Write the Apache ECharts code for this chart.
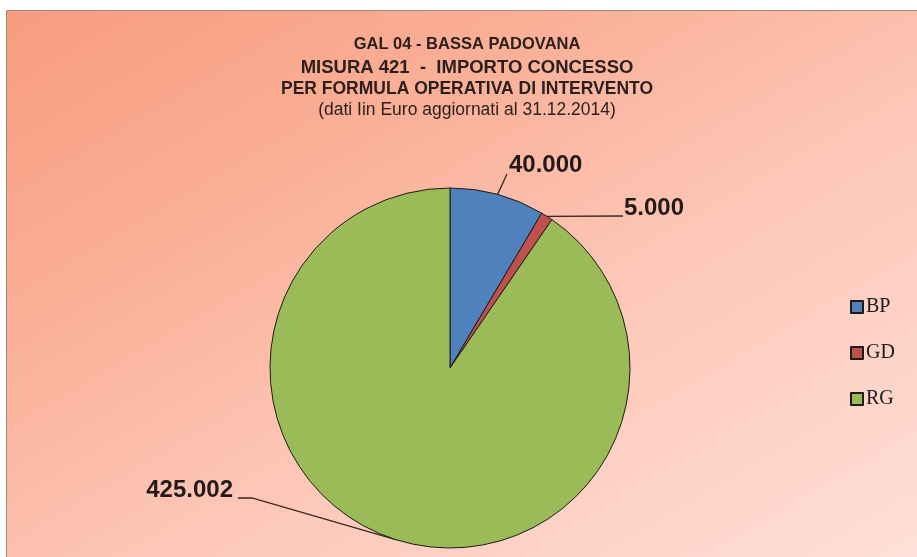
<!DOCTYPE html>
<html>
<head>
<meta charset="utf-8">
<script src="https://cdn.jsdelivr.net/npm/echarts@6/dist/echarts.min.js"></script>
<style>
html,body{margin:0;padding:0;background:#ffffff;}
#chart{width:917px;height:557px;}
</style>
</head>
<body>
<div id="chart"></div>
<script>
// ---- data ----
var categories = ['BP', 'GD', 'RG'];
var values = [40000, 5000, 425002];
var valueLabels = ['40.000', '5.000', '425.002'];
var sliceColors = ['#4F81BD', '#C0504D', '#9BBB59'];
var titleLines = [
  'GAL 04 - BASSA PADOVANA',
  'MISURA 421  -  IMPORTO CONCESSO',
  'PER FORMULA OPERATIVA DI INTERVENTO',
  '(dati Iin Euro aggiornati al 31.12.2014)'
];

// label placement (annotation positions)
var labelSpec = [
  { x: 509, y: 165, align: 'left',  line: [[507, 174]] },
  { x: 624, y: 208, align: 'left',  line: [[623, 216]] },
  { x: 233, y: 490, align: 'right', line: [[252, 498], [238, 498]] }
];

var chart = echarts.init(document.getElementById('chart'));

var seriesData = categories.map(function (c, i) {
  return { name: c, value: values[i], itemStyle: { color: sliceColors[i] } };
});

var titleFont = 'Liberation Sans';
var titles = [
  { text: titleLines[0], top: 36, fs: 16.5, fw: 'bold' },
  { text: titleLines[1], top: 58, fs: 18.5, fw: 'bold' },
  { text: titleLines[2], top: 80, fs: 17.5, fw: 'bold' },
  { text: titleLines[3], top: 101, fs: 17.5, fw: 'normal' }
].map(function (t) {
  return {
    text: t.text,
    left: 467,
    textAlign: 'center',
    top: t.top,
    padding: 0,
    textStyle: { fontFamily: titleFont, fontSize: t.fs, fontWeight: t.fw, color: '#2a1f1c' }
  };
});

chart.setOption({
  animation: false,
  backgroundColor: '#ffffff',
  graphic: [{
    type: 'rect',
    z: -10,
    silent: true,
    shape: { x: 6.5, y: 10.5, width: 930, height: 570 },
    style: {
      fill: {
        type: 'linear', x: 0, y: 0, x2: 0.53, y2: 1.47,
        colorStops: [
          { offset: 0, color: '#F89C7E' },
          { offset: 0.3, color: '#FAB098' },
          { offset: 0.55, color: '#FDC6B6' },
          { offset: 1, color: '#FFE2DB' }
        ]
      },
      stroke: '#9a8a84',
      lineWidth: 1
    }
  }],
  title: titles,
  legend: {
    orient: 'vertical',
    left: 845,
    top: 292,
    itemWidth: 12,
    itemHeight: 12,
    itemGap: 26,
    icon: 'rect',
    data: categories,
    textStyle: { fontFamily: 'Liberation Serif', fontSize: 20, color: '#1a1a1a', lineHeight: 20, padding: [0, 0, 0, -2] }
  },
  series: [{
    type: 'pie',
    center: [450, 368],
    radius: 180,
    startAngle: 90,
    clockwise: true,
    avoidLabelOverlap: false,
    itemStyle: { borderColor: '#1e1a18', borderWidth: 1 },
    emphasis: { disabled: true },
    label: {
      show: true,
      position: 'outside',
      formatter: function (p) { return valueLabels[p.dataIndex]; },
      fontFamily: 'Liberation Sans',
      fontWeight: 'bold',
      fontSize: 24,
      color: '#231a17'
    },
    labelLine: {
      show: true,
      length: 10,
      length2: 10,
      lineStyle: { color: '#3a2420', width: 1.3 }
    },
    labelLayout: function (p) {
      var s = labelSpec[p.dataIndex];
      var start = p.labelLinePoints ? p.labelLinePoints[0] : null;
      var res = { x: s.x, y: s.y, align: s.align, verticalAlign: 'middle', hideOverlap: false };
      if (start) {
        var pts = [[start[0], start[1]]];
        for (var i = 0; i < s.line.length; i++) { pts.push(s.line[i]); }
        if (pts.length === 2) { pts.push(pts[1]); }
        res.labelLinePoints = pts;
      }
      return res;
    },
    data: seriesData
  }]
});
</script>
</body>
</html>
